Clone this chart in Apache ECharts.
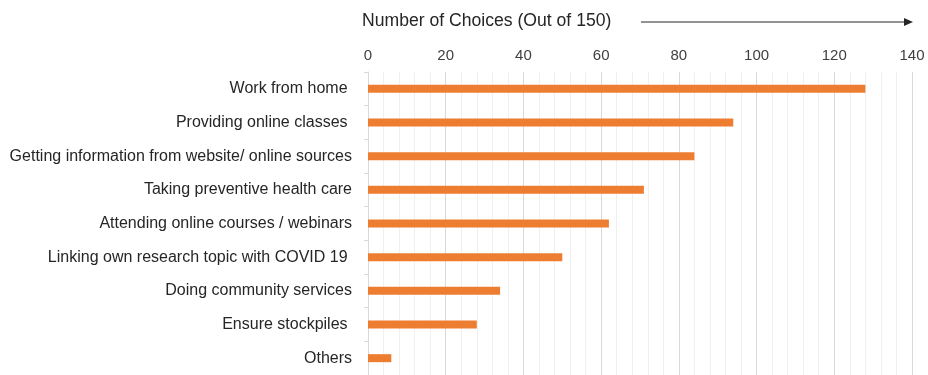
<!DOCTYPE html>
<html>
<head>
<meta charset="utf-8">
<script src="https://cdn.jsdelivr.net/npm/echarts@6/dist/echarts.min.js"></script>
<style>
  html, body { margin: 0; padding: 0; background: #ffffff; }
  #chart { width: 928px; height: 375px; }
</style>
</head>
<body>
<div id="chart"></div>
<script>
// Activities chosen by respondents, top to bottom
const categories = [
  'Work from home ',
  'Providing online classes ',
  'Getting information from website/ online sources',
  'Taking preventive health care',
  'Attending online courses / webinars',
  'Linking own research topic with COVID 19 ',
  'Doing community services',
  'Ensure stockpiles ',
  'Others'
];
const choices = [128, 94, 84, 71, 62, 50, 34, 28, 6];
const axisTitle = 'Number of Choices (Out of 150)';

const chart = echarts.init(document.getElementById('chart'));
const font = '"Liberation Sans", Arial, sans-serif';

chart.setOption({
  animation: false,
  grid: { left: 368, right: 16, top: 72, bottom: -4, containLabel: false },
  xAxis: {
    type: 'value',
    position: 'top',
    min: 0, max: 140, interval: 20,
    axisLine: { show: false },
    axisTick: { show: false },
    axisLabel: { color: '#404040', fontSize: 15, fontFamily: font, margin: 9 },
    splitLine: { show: true, lineStyle: { color: '#d9d9d9', width: 1 } },
    minorTick: { show: false, splitNumber: 5 },
    minorSplitLine: { show: true, lineStyle: { color: '#f0f0f0', width: 1 } }
  },
  yAxis: {
    type: 'category',
    data: categories,
    inverse: true,
    axisLine: { show: true, lineStyle: { color: '#d9d9d9' } },
    axisTick: { show: true, length: 4, lineStyle: { color: '#d9d9d9' } },
    axisLabel: { color: '#262626', fontSize: 16, fontFamily: font, margin: 16 }
  },
  series: [{
    type: 'bar',
    data: choices,
    barWidth: 8,
    itemStyle: { color: '#ED7D31' }
  }],
  graphic: [
    {
      type: 'text', left: 362, top: 12,
      style: { text: axisTitle, fill: '#262626', font: '17.6px ' + font }
    },
    {
      type: 'line',
      shape: { x1: 641, y1: 22, x2: 904, y2: 22 },
      style: { stroke: '#262626', lineWidth: 1 }
    },
    {
      type: 'polygon',
      shape: { points: [[904, 18], [913, 22], [904, 26]] },
      style: { fill: '#262626' }
    }
  ]
});
</script>
</body>
</html>
